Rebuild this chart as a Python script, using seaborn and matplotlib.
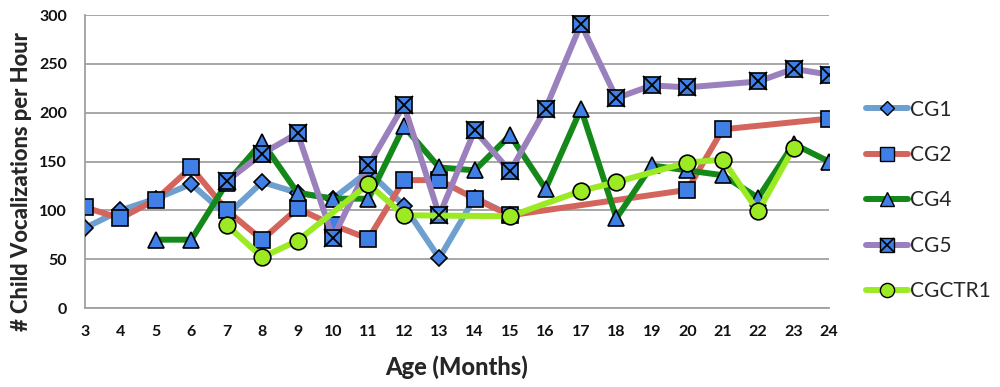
import numpy as np
import pandas as pd
import matplotlib
matplotlib.use("Agg")
import matplotlib.pyplot as plt
import seaborn as sns
from matplotlib.lines import Line2D

months = list(range(3, 25))
cg1 = [82, 100, 112, 127, 95, 129, 118, 112, 140, 105, 51, 113, 95,
       None, None, None, None, None, None, None, None, None]
cg2 = [103, 92, 111, 144, 100, 70, 102, 85, 71, 131, 131, 112, 95,
       None, None, None, None, 121, 183, None, None, 194]
cg4 = [None, None, 70, 70, 128, 170, 118, 112, 112, 186, 144, 141, 177,
       122, 204, 92, 146, 141, 136, 113, 168, 150]
cg5 = [None, None, None, None, 130, 158, 179, 72, 146, 208, 95, 182, 140,
       204, 291, 215, 228, 226, None, 232, 245, 239]
ctr = [None, None, None, None, 85, 52, 69, None, 127, 95, None, None, 94,
       None, 120, 129, None, 149, 152, 99, 164, None]

names = ["CG1", "CG2", "CG4", "CG5", "CGCTR1"]
series = [cg1, cg2, cg4, cg5, ctr]
line_colors = ["#6d9fcf", "#d4655c", "#14891a", "#9a80bd", "#9bea24"]
markers = ["D", "s", "^", "s", "o"]
msizes = [8.5, 12, 12, 12, 12]
faces = ["#3f7fe6", "#3f7fe6", "#3f7fe6", "#3f7fe6", "#9bea24"]

sns.set_theme(style="white")
plt.rcParams['font.family'] = ['Lato', 'DejaVu Sans']

fig = plt.figure(figsize=(10, 3.87), dpi=100)
ax = fig.add_axes([0.085, 0.204, 0.744, 0.757])

handles = []
for name, vals, lc, mk, ms, fc in zip(names, series, line_colors, markers, msizes, faces):
    df = pd.DataFrame({"month": months, "val": vals}).dropna()
    sns.lineplot(data=df, x="month", y="val", ax=ax, color=lc, linewidth=4.3,
                 marker=mk, markersize=ms, markerfacecolor=fc,
                 markeredgecolor="black", markeredgewidth=1.2, zorder=3)
    h = Line2D([], [], color=lc, linewidth=4.3, marker=mk, markersize=ms * 0.85,
               markerfacecolor=fc, markeredgecolor="black", markeredgewidth=1.0)
    if name == "CG5":
        ax.plot(df["month"], df["val"], linestyle="none", marker="x",
                markersize=12.5, markeredgecolor="black", markeredgewidth=1.3, zorder=4)
        hx = Line2D([], [], linestyle="none", marker="x", markersize=10,
                    markeredgecolor="black", markeredgewidth=1.2)
        handles.append((h, hx))
    else:
        handles.append(h)

ax.set_xlim(3, 24)
ax.set_ylim(0, 300)
ax.set_xticks(months)
ax.set_yticks(range(0, 301, 50))
ax.yaxis.grid(True, color="#a0a0a0", linewidth=1.3)
ax.set_axisbelow(True)
for s in ["top", "right"]:
    ax.spines[s].set_visible(False)
for s in ["left", "bottom"]:
    ax.spines[s].set_color("#a0a0a0")
    ax.spines[s].set_linewidth(1.3)
ax.tick_params(axis="both", which="both", length=5, width=1.3, color="#a0a0a0",
               direction="out", labelsize=11.5, pad=7, labelcolor="#111111")
ax.tick_params(axis="y", pad=8)
for lab in ax.get_xticklabels() + ax.get_yticklabels():
    lab.set_fontweight("bold")
ax.set_xlabel("Age (Months)", fontsize=17, fontweight="black", va="center")
ax.set_ylabel("# Child Vocalizations per Hour", fontsize=15.8, fontweight="black", va="center")
ax.yaxis.set_label_coords(-0.085, 0.433)
ax.xaxis.set_label_coords(0.5, -0.201)

leg = fig.legend(handles, names, loc="center left", bbox_to_anchor=(0.866, 0.482),
                 frameon=False, fontsize=15, handlelength=2.0, labelspacing=1.22,
                 handletextpad=0.1, borderpad=0, borderaxespad=0)

fig.savefig("out.png", dpi=100)
